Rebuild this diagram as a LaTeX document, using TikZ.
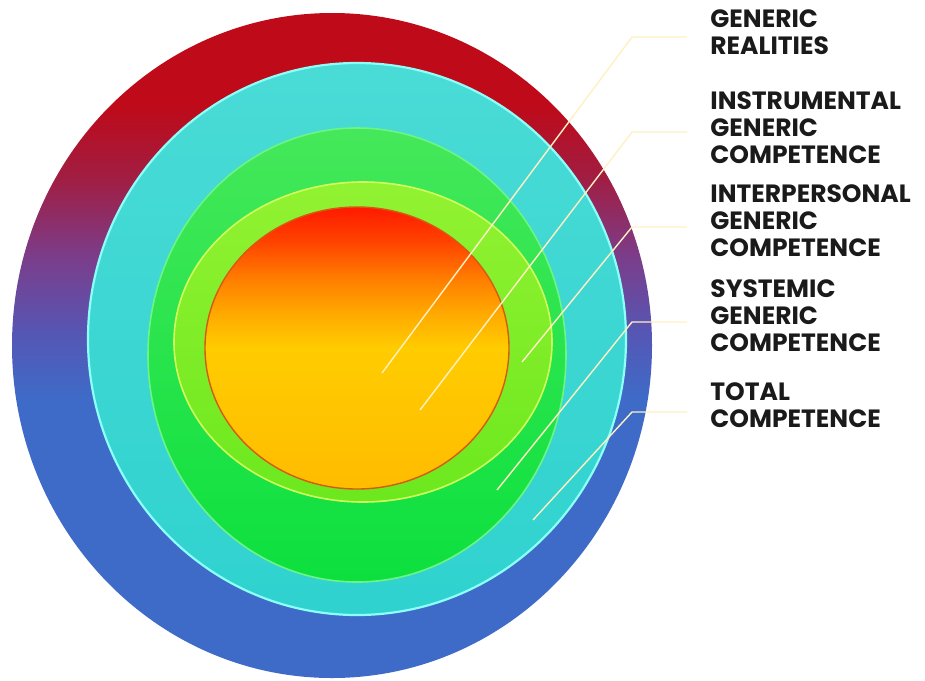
\documentclass[tikz,border=0pt]{standalone}
\usepackage{fontspec}
\setsansfont{Poppins}
\usepackage{xcolor}
\definecolor{outerred}{HTML}{BE0A19}
\definecolor{outercrimson}{HTML}{A01E44}
\definecolor{outerviolet}{HTML}{7A3E8C}
\definecolor{outerindigo}{HTML}{5656B4}
\definecolor{outerblue}{HTML}{3E6BC8}
\definecolor{cyantop}{HTML}{4ADBD6}
\definecolor{cyanbottom}{HTML}{2FD2CF}
\definecolor{cyanrim}{HTML}{8CFFF8}
\definecolor{greentop}{HTML}{45E85A}
\definecolor{greenbottom}{HTML}{0CE03E}
\definecolor{greenrim}{HTML}{6CF585}
\definecolor{limetop}{HTML}{92F232}
\definecolor{limebottom}{HTML}{6CE81E}
\definecolor{limerim}{HTML}{D2FF5A}
\definecolor{corered}{HTML}{FF1A00}
\definecolor{corescarlet}{HTML}{FF4200}
\definecolor{coreorange}{HTML}{FF8000}
\definecolor{coreamber}{HTML}{FFAA00}
\definecolor{coreyellow}{HTML}{FFCC00}
\definecolor{coregold}{HTML}{FFBC00}
\definecolor{coreedge}{HTML}{D85A10}
\definecolor{leadercream}{HTML}{FFF0C4}
\definecolor{labeldark}{HTML}{1A1A1A}

\pgfdeclareverticalshading{outerband}{100bp}{color(0bp)=(outerblue); color(46bp)=(outerblue);
  color(51bp)=(outerindigo); color(56.5bp)=(outerviolet); color(62.5bp)=(outercrimson);
  color(68bp)=(outerred); color(100bp)=(outerred)}
\pgfdeclareverticalshading{coreglow}{100bp}{color(0bp)=(coregold); color(25bp)=(coregold);
  color(50bp)=(coreyellow); color(56bp)=(coreamber); color(62bp)=(coreorange);
  color(69bp)=(corescarlet); color(75bp)=(corered); color(100bp)=(corered)}

\begin{document}
\begin{tikzpicture}[x=0.5pt,y=0.5pt,text=labeldark,
  leader/.style={draw=leadercream,line width=0.7pt},
  ringlabel/.style={anchor=west,align=left,inner sep=0pt,
    font=\sffamily\bfseries\fontsize{12.5}{13.5}\selectfont}]
  \useasboundingbox (0,0) rectangle (925,-680);

  % rings, outside in
  \shade[shading=outerband] (332,-345.5) ellipse [x radius=320,y radius=332.5];
  \shadedraw[top color=cyantop,bottom color=cyanbottom,draw=cyanrim,line width=1.1pt]
    (357,-339) ellipse [x radius=269,y radius=276];
  \shadedraw[top color=greentop,bottom color=greenbottom,draw=greenrim,line width=0.8pt]
    (357,-355) ellipse [x radius=209,y radius=227];
  \shadedraw[top color=limetop,bottom color=limebottom,draw=limerim,line width=0.8pt]
    (363,-342) ellipse [x radius=189,y radius=160];
  \shadedraw[shading=coreglow,draw=coreedge,line width=0.7pt]
    (357,-348) ellipse [x radius=152,y radius=141];

  % labels and leaders
  \foreach \name/\ty/\ey/\tipx/\tipy/\txt in {
    realities/32.5/37/382/373/{GENERIC\\REALITIES},
    instrumental/128/132/420/410/{INSTRUMENTAL\\GENERIC\\COMPETENCE},
    interpersonal/221/227/522/362/{INTERPERSONAL\\GENERIC\\COMPETENCE},
    systemic/316/322/497/490/{SYSTEMIC\\GENERIC\\COMPETENCE},
    total/405.5/412/533/520/{TOTAL\\COMPETENCE}} {
    \node[ringlabel] (\name) at (710,-\ty) {\txt};
    \coordinate (\name elbow) at (632,-\ey);
    \coordinate (\name tip) at (\tipx,-\tipy);
    \draw[leader] (\name.west |- \name elbow) ++(-23,0) -- (\name elbow) -- (\name tip);
  }
\end{tikzpicture}
\end{document}
